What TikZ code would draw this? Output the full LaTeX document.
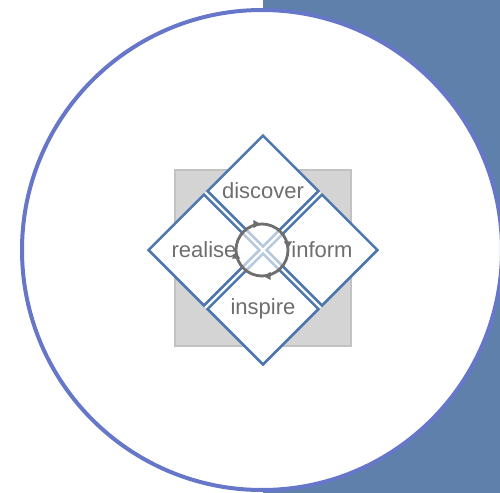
\documentclass[tikz,border=0pt]{standalone}
\usepackage{fontspec}
\setmainfont{Liberation Sans}
\usetikzlibrary{arrows.meta,shapes.geometric,decorations.markings}
\usepackage{xcolor}
\definecolor{CycBack}{HTML}{5F80AB}
\definecolor{CycRing}{HTML}{6677C9}
\definecolor{CycTile}{HTML}{4D78AE}
\definecolor{CycPlate}{HTML}{D4D4D4}
\definecolor{CycPlateEdge}{HTML}{C2C2C2}
\definecolor{CycText}{HTML}{6E6E6E}
\definecolor{CycHub}{HTML}{6E6E6E}

\begin{document}
\begin{tikzpicture}[
  x=0.5pt,y=-0.5pt,font=\fontsize{11}{12}\selectfont,
  ring/.style={draw=CycRing,fill=white,line width=2pt},
  plate/.style={draw=CycPlateEdge,fill=CycPlate,line width=0.8pt},
  tile/.style={diamond,shape aspect=1,draw=CycTile,line width=1.25pt,
    minimum width=56pt,minimum height=56pt,inner sep=0pt,text=CycText},
  hub/.style={circle,draw=CycHub,line width=1.4pt,minimum size=26pt,
    inner sep=0pt,preaction={fill=white,fill opacity=0.6},
    decoration={markings,mark=between positions 0.001 and 0.99 step 0.25
      with {\arrowreversed[CycHub]{Latex[length=4.2pt,width=4.4pt]}}},
    postaction={decorate}}
]
\useasboundingbox (0,0) rectangle (500,493);

% backdrop: blue panel, framed disc, grey plate
\fill[CycBack] (263,0) rectangle (500,493);
\draw[ring] (262,250) circle[radius=240];
\draw[plate] (175,170) rectangle (351,346);

% white ground under the four tiles, so the seams stay light
\fill[white] (263,135) -- (148,250) -- (263,365) -- (378,250) -- cycle;

\node[tile] (discover) at (263,191) {discover};
\node[tile] (realise) at (204,250) {realise};
\node[tile] (inform) at (322,250) {inform};
\node[tile] (inspire) at (263,309) {inspire};

\node[hub] (cycle) at (262,250) {};

\end{tikzpicture}
\end{document}
